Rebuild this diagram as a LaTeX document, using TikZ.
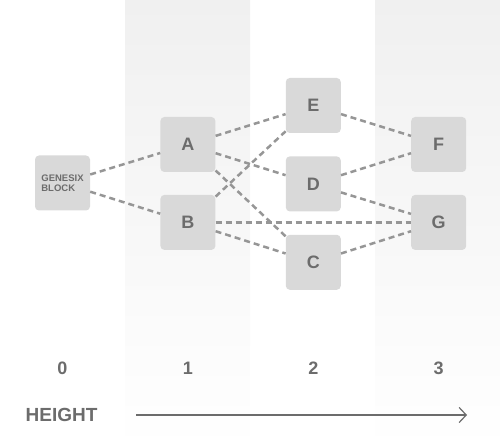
\documentclass[tikz,border=0pt]{standalone}
\usepackage{fontspec}
\setmainfont{Liberation Sans}
\usepackage{xcolor}
\definecolor{mfill}{RGB}{217,217,217}
\definecolor{mtext}{RGB}{108,108,108}
\definecolor{medge}{RGB}{150,150,150}
\definecolor{mshade}{RGB}{240,240,240}
\usetikzlibrary{positioning}
\usetikzlibrary{arrows.meta}

\begin{document}
\begin{tikzpicture}[block/.style={fill=mfill, rounded corners=4pt, minimum size=55pt, inner sep=0pt, text=mtext, font=\bfseries\fontsize{18}{20}\selectfont},
    genblock/.style={block, align=left, font=\bfseries\fontsize{9.5}{10.5}\selectfont},
    link/.style={medge, line width=2.5pt, dash pattern=on 6pt off 4pt},
    heightlabel/.style={text=mtext, font=\bfseries\fontsize{18}{20}\selectfont},
    axis/.style={-{Straight Barb[length=7pt, width=15pt]}, mtext, line width=1.2pt},
]
\useasboundingbox (0,0) rectangle (500pt,-446pt);

% columns
\shade[top color=mshade, bottom color=white!99!mshade] (125pt,0) rectangle (250pt,-446pt);
\shade[top color=mshade, bottom color=white!99!mshade] (375pt,0) rectangle (500pt,-446pt);

\node[genblock] (genesis) at (62.5pt,-183pt) {GENESIX\\BLOCK};
\node[block, right=70pt of genesis, yshift=38.5pt] (a) {A};
\node[block, below=22.5pt of a] (b) {B};
\node[block, right=70pt of a, yshift=39pt] (e) {E};
\node[block, below=23pt of e] (d) {D};
\node[block, below=23pt of d] (c) {C};
\node[block, right=70pt of e, yshift=-39pt] (f) {F};
\node[block, below=22.5pt of f] (g) {G};

\draw[link] (genesis) -- (a);
\draw[link] (genesis) -- (b);
\draw[link] (a) -- (e);
\draw[link] (a) -- (d);
\draw[link] (a) -- (c);
\draw[link] (b) -- (e);
\draw[link] (b) -- (g);
\draw[link] (b) -- (c);
\draw[link] (e) -- (f);
\draw[link] (d) -- (f);
\draw[link] (d) -- (g);
\draw[link] (c) -- (g);

% heights
\node[heightlabel] (h0) at (genesis |- 0,-368pt) {0};
\node[heightlabel] (h1) at (a |- 0,-368pt) {1};
\node[heightlabel] (h2) at (e |- 0,-368pt) {2};
\node[heightlabel] (h3) at (f |- 0,-368pt) {3};

\node[heightlabel, font=\bfseries\fontsize{19}{21}\selectfont] (height) at (61.5pt,-415pt) {HEIGHT};
\coordinate (axisstart) at (136pt,-415pt);
\coordinate (axisend) at (467pt,-415pt);
\draw[axis] (axisstart) -- (axisend);

\end{tikzpicture}
\end{document}
